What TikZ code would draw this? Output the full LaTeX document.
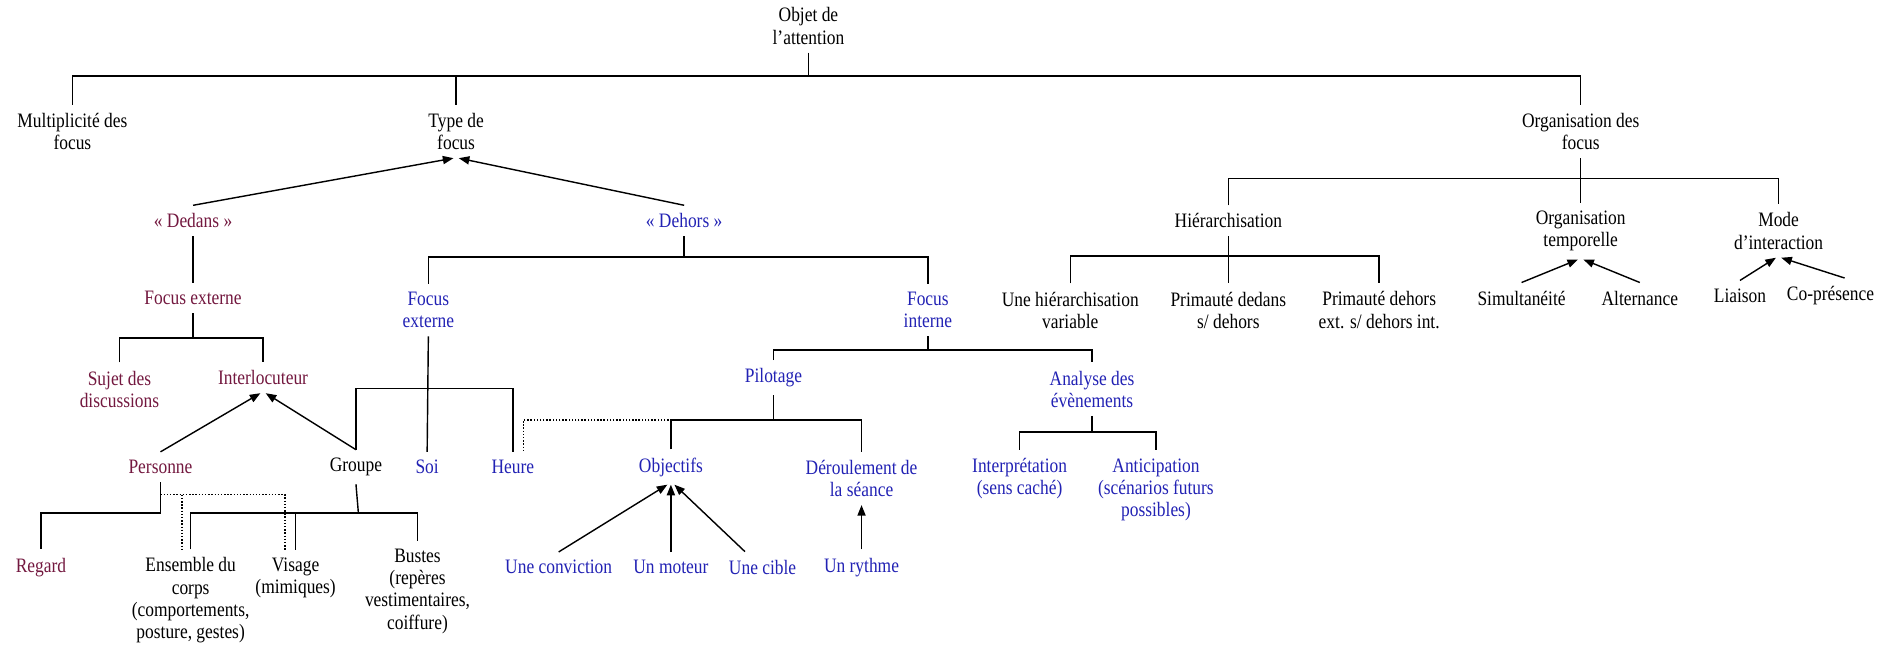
\documentclass[tikz,border=0pt]{standalone}
\usepackage{fontspec}
\setmainfont{Liberation Serif}[FakeStretch=0.85]
\usetikzlibrary{arrows.meta, calc}
\definecolor{dedanscol}{HTML}{73183F}
\definecolor{dehorscol}{HTML}{2222B4}

\begin{document}
\begin{tikzpicture}[
  x=0.024cm, y=-0.024cm,
  >={Triangle[length=6pt, width=4.6pt]},
  link/.style={black, line width=0.8pt},
  dotlink/.style={link, densely dotted},
  arr/.style={link, ->},
  lbl/.style={align=center, inner sep=4.5pt, font=\fontsize{11.6}{12.6}\selectfont},
  dd/.style={lbl, text=dedanscol},
  dh/.style={lbl, text=dehorscol},
]

\useasboundingbox (0,0) rectangle (1568,540);

% ══════════════════════════════════════════════════════
% Top levels
% ══════════════════════════════════════════════════════
\node[lbl] (root) at (670,21.5) {Objet de\\l’attention};
\node[lbl] (multi) at (60,109) {Multiplicité des\\focus};
\node[lbl] (type) at (378,109) {Type de\\focus};
\node[lbl] (orga) at (1310,109) {Organisation des\\focus};

\coordinate (j0) at (670,63);
\draw[link] (root.south) -- (j0);
\draw[link] (multi.north) |- (j0) -| (orga.north);
\draw[link] (j0) -| (type.north);

% ══════════════════════════════════════════════════════
% Type de focus : dedans / dehors
% ══════════════════════════════════════════════════════
\node[dd] (dedans) at (160,183) {« Dedans »};
\node[dh] (dehors) at (567,183) {« Dehors »};

\draw[arr] (dedans.north) -- ([xshift=-1.5pt]type.south);
\draw[arr] (dehors.north) -- ([xshift=1.5pt]type.south);

% Dedans branch
\node[dd] (fexd) at (160,247) {Focus externe};
\node[dd] (sujet) at (99,322.5) {Sujet des\\discussions};
\node[dd] (interl) at (218,313) {Interlocuteur};
\node[dd] (personne) at (133,387) {Personne};
\node[lbl] (groupe) at (295,387) {Groupe};

\draw[link] (dedans.south) -- (fexd.north);
\coordinate (jfd) at (160,280);
\draw[link] (fexd.south) -- (jfd);
\draw[link] (sujet.north) |- (jfd) -| (interl.north);

\draw[arr] (personne.north) -- ([xshift=-1.5pt]interl.south);
\draw[arr] (groupe.north) -- ([xshift=1.5pt]interl.south);

% Personne / Groupe children
\node[dd] (regard) at (34,470) {Regard};
\node[lbl] (corps) at (158,497.5) {Ensemble du\\corps\\(comportements,\\posture, gestes)};
\node[lbl] (visage) at (245,479) {Visage\\(mimiques)};
\node[lbl] (bustes) at (346,490) {Bustes\\(repères\\vestimentaires,\\coiffure)};

\coordinate (jper) at (133,425);
\draw[link] (personne.south) -- (jper) -| (regard.north);
\coordinate (dper) at (133,410);
\coordinate (dcorps) at ([xshift=-5pt]corps.north);
\draw[dotlink] (dper) -| ([xshift=-6pt]visage.north);
\draw[dotlink] (dper -| dcorps) -- (dcorps);

\coordinate (jgr) at (297,425);
\draw[link] (groupe.south) -- (jgr);
\draw[link] (corps.north) |- (jgr) -| (bustes.north);
\draw[link] (jgr) -| (visage.north);

% ══════════════════════════════════════════════════════
% Dehors branch
% ══════════════════════════════════════════════════════
\node[dh] (fexh) at (355,257) {Focus\\externe};
\node[dh] (finh) at (769,257) {Focus\\interne};

\coordinate (jdh) at (567,213);
\draw[link] (dehors.south) -- (jdh);
\draw[link] (fexh.north) |- (jdh) -| (finh.north);

% Focus externe
\node[dh] (soi) at (354,387) {Soi};
\node[dh] (heure) at (425,387) {Heure};

\coordinate (jfe) at (355,322);
\draw[link] (fexh.south) -- (soi.north);
\draw[link] (groupe.north) |- (jfe) -| (heure.north);

% Focus interne
\node[dh] (pilot) at (641,313) {Pilotage};
\node[dh] (analyse) at (905,322.5) {Analyse des\\évènements};

\coordinate (jfi) at (769,290);
\draw[link] (finh.south) -- (jfi);
\draw[link] (pilot.north) |- (jfi) -| (analyse.north);

% Pilotage
\node[dh] (objectifs) at (556,387) {Objectifs};
\node[dh] (deroul) at (714,396.5) {Déroulement de\\la séance};

\coordinate (jpil) at (641,348);
\draw[dotlink] (jpil) -| ([xshift=6pt]heure.north);
\draw[link] (pilot.south) -- (jpil);
\draw[link] (objectifs.north) |- (jpil) -| (deroul.north);

\node[dh] (convic) at (463,470) {Une conviction};
\node[dh] (moteur) at (556,470) {Un moteur};
\node[dh] (cible) at (632,470) {Une cible};
\node[dh] (rythme) at (714,470) {Un rythme};

\draw[arr] (convic.north) -- ([xshift=-2pt]objectifs.south);
\draw[arr] (moteur.north) -- (objectifs.south);
\draw[arr] ([xshift=-10pt]cible.north) -- ([xshift=2pt]objectifs.south);
\draw[arr] (rythme.north) -- (deroul.south);

% Analyse des evenements
\node[dh] (interp) at (845,396.5) {Interprétation\\(sens caché)};
\node[dh] (antic) at (958,406) {Anticipation\\(scénarios futurs\\possibles)};

\coordinate (jan) at (905,358);
\draw[link] (analyse.south) -- (jan);
\draw[link] (interp.north) |- (jan) -| (antic.north);

% ══════════════════════════════════════════════════════
% Organisation des focus
% ══════════════════════════════════════════════════════
\node[lbl] (hier) at (1018,183) {Hiérarchisation};
\node[lbl] (orgtemp) at (1310,191.5) {Organisation\\temporelle};
\node[lbl] (mode) at (1474,191.5) {Mode\\d’interaction};

\coordinate (jorg) at (1310,148);
\draw[link] (orga.south) -- (jorg);
\draw[link] (hier.north) |- (jorg) -| (mode.north);
\draw[link] (jorg) -- (orgtemp.north);

% Hierarchisation
\node[lbl] (hvar) at (887,257) {Une hiérarchisation\\variable};
\node[lbl] (pdedans) at (1018,257) {Primauté dedans\\s/ dehors};
\node[lbl] (pdehors) at (1143,257) {Primauté dehors\\ext. s/ dehors int.};

\coordinate (jhi) at (1018,212);
\draw[link] (hier.south) -- (pdedans.north);
\draw[link] (hvar.north) |- (jhi) -| (pdehors.north);

% Organisation temporelle / mode d'interaction
\node[lbl] (simul) at (1261,247) {Simultanéité};
\node[lbl] (altern) at (1359,247) {Alternance};
\node[lbl] (liaison) at (1442,245) {Liaison};
\node[lbl] (copres) at (1517,245) {Co-présence};

\draw[arr] (simul.north) -- ([xshift=-1.5pt]orgtemp.south);
\draw[arr] (altern.north) -- ([xshift=1.5pt]orgtemp.south);
\draw[arr] (liaison.north) -- ([xshift=-1.5pt]mode.south);
\draw[arr] ([xshift=8pt]copres.north) -- ([xshift=1.5pt]mode.south);

\end{tikzpicture}
\end{document}
